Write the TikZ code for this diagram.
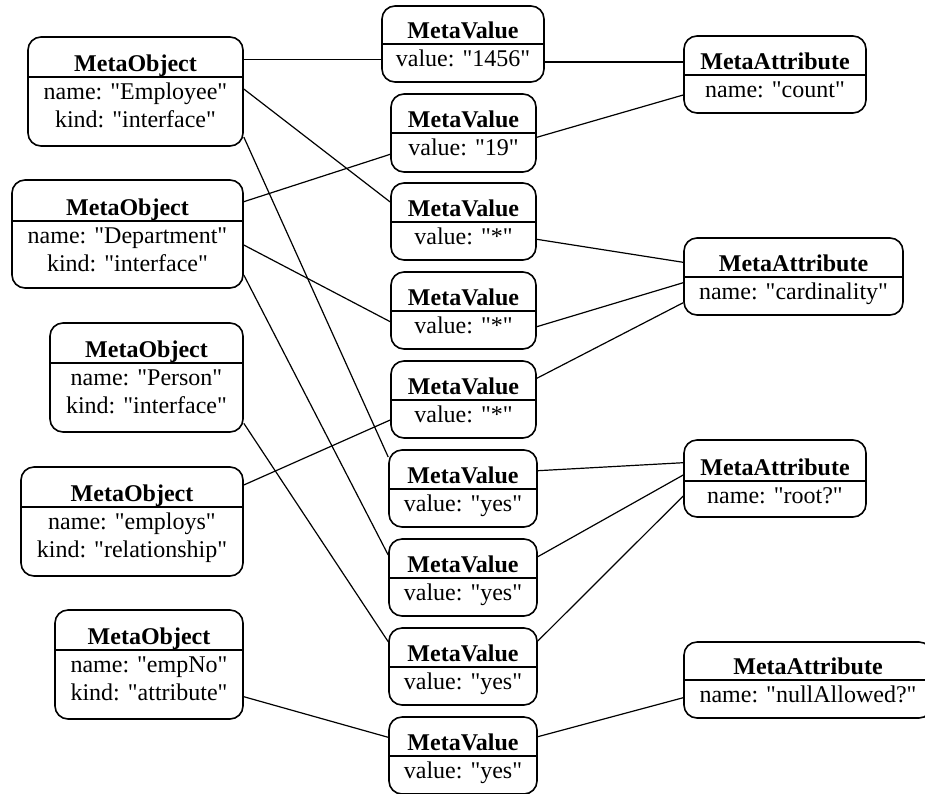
\documentclass[tikz,border=0pt]{standalone}
\usepackage{fontspec}
\setmainfont{Liberation Serif}[Ligatures=TeXOff]
\usetikzlibrary{fit}

\tikzset{
  mbox/.style={draw, line width=1.6pt, rounded corners=13pt, inner sep=0pt},
  divider/.style={line width=1.4pt},
  ttl/.style={anchor=base, inner sep=0pt, font=\fontsize{24}{28}\selectfont\bfseries},
  bdy/.style={anchor=base, inner sep=0pt, font=\fontsize{24}{28}\selectfont},
  link/.style={line width=1.2pt},
}

% #1 name, #2..#5 box corners (x0,y0,x1,y1), #6 divider y,
% #7 class title, #8 first slot line, #9 optional second slot line
\newcommand\metabox[9]{%
  \node[mbox, fit={(#2,#3) (#4,#5)}] (#1) {};
  \draw[divider] (#2,#6) -- (#4,#6);
  \node[ttl] (#1-t) at ({(#2+#4)/2},#6-5.5) {#7};
  \node[bdy] (#1-a) at ({(#2+#4)/2},#6+22.5) {#8};
  \ifx\relax#9\relax\else\node[bdy] (#1-b) at ({(#2+#4)/2},#6+50.5) {#9};\fi
}

\begin{document}
\begin{tikzpicture}[x=1pt, y=-1pt]
\useasboundingbox (0,0) rectangle (925,793);

% meta objects
\metabox{emp}{28}{37}{243}{146}{77}{MetaObject}{name: "Employee"}{kind: "interface"}
\metabox{dep}{12}{180}{243}{288}{221}{MetaObject}{name: "Department"}{kind: "interface"}
\metabox{per}{50}{323}{243}{432}{363}{MetaObject}{name: "Person"}{kind: "interface"}
\metabox{ems}{21}{467}{243}{576}{507}{MetaObject}{name: "employs"}{kind: "relationship"}
\metabox{eno}{55}{610}{243}{719}{650}{MetaObject}{name: "empNo"}{kind: "attribute"}

% meta values
\metabox{v1}{382}{6}{544}{82}{44}{MetaValue}{value: "1456"}{}
\metabox{v2}{391}{94}{536}{172}{133}{MetaValue}{value: "19"}{}
\metabox{v3}{391}{183}{536}{260}{222}{MetaValue}{value: "*"}{}
\metabox{v4}{391}{272}{536}{349}{311}{MetaValue}{value: "*"}{}
\metabox{v5}{391}{361}{536}{438}{400}{MetaValue}{value: "*"}{}
\metabox{v6}{389}{450}{537}{527}{489}{MetaValue}{value: "yes"}{}
\metabox{v7}{389}{539}{537}{616}{578}{MetaValue}{value: "yes"}{}
\metabox{v8}{389}{628}{537}{705}{667}{MetaValue}{value: "yes"}{}
\metabox{v9}{389}{717}{537}{794}{756}{MetaValue}{value: "yes"}{}

% meta attributes
\metabox{count}{684}{36}{866}{113}{75}{MetaAttribute}{name: "count"}{}
\metabox{card}{684}{238}{903}{315}{277}{MetaAttribute}{name: "cardinality"}{}
\metabox{root}{684}{440}{866}{517}{481}{MetaAttribute}{name: "root?"}{}
\metabox{nula}{684}{642}{932}{718}{680}{MetaAttribute}{name: "nullAllowed?"}{}

% object -> value links
\draw[link] ([yshift=32pt]emp.east) -- ([yshift=-15.5pt]v1.west);
\draw[link] ([yshift=2.5pt]emp.east) -- ([yshift=19.5pt]v3.west);
\draw[link] ([yshift=-45.5pt]emp.east) -- ([yshift=31.5pt]v6.west);
\draw[link] ([yshift=32.3pt]dep.east) -- ([yshift=-21.3pt]v2.west);
\draw[link] ([yshift=-11pt]dep.east) -- ([yshift=-11.2pt]v4.west);
\draw[link] ([yshift=-41pt]dep.east) -- ([yshift=22.5pt]v7.west);
\draw[link] ([yshift=36.5pt]ems.east) -- ([yshift=-20.5pt]v5.west);
\draw[link] ([yshift=-45.8pt]per.east) -- ([yshift=24.8pt]v8.west);
\draw[link] ([yshift=-32.2pt]eno.east) -- ([yshift=18.2pt]v9.west);

% value -> attribute links
\draw[link] ([yshift=-18pt]v1.east) -- ([yshift=12.5pt]count.west);
\draw[link] ([yshift=-4.3pt]v2.east) -- ([yshift=-20.5pt]count.west);
\draw[link] ([yshift=-17.8pt]v3.east) -- ([yshift=14.2pt]card.west);
\draw[link] ([yshift=-16.2pt]v4.east) -- ([yshift=-6.2pt]card.west);
\draw[link] ([yshift=21.2pt]v5.east) -- ([yshift=-26.2pt]card.west);
\draw[link] ([yshift=17.8pt]v6.east) -- ([yshift=15.8pt]root.west);
\draw[link] ([yshift=20.8pt]v7.east) -- ([yshift=3.5pt]root.west);
\draw[link] ([yshift=25.5pt]v8.east) -- ([yshift=-17.5pt]root.west);
\draw[link] ([yshift=18.8pt]v9.east) -- ([yshift=-17.7pt]nula.west);
\end{tikzpicture}
\end{document}
